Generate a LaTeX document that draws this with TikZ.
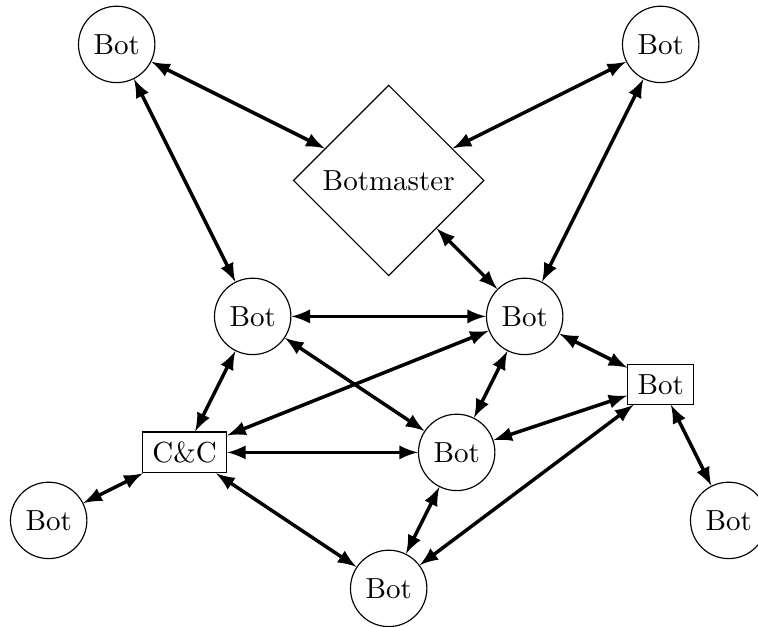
\documentclass[tikz,border=0pt]{standalone}
\usetikzlibrary{shapes.geometric}
\begin{document}
\begin{tikzpicture}[x=0.824cm, y=0.824cm,
  bot/.style = {circle, draw},
  boxbot/.style = {rectangle, draw},
  master/.style = {diamond, draw},
  link/.style = {<->, >=latex, very thick}]
  \useasboundingbox (-5.716,0.653) rectangle (5.431,-8.553);
  \node[master] (master) at (0,-2) {Botmaster};
  \node[bot] (topleft) at (-4,0) {Bot};
  \node[bot] (topright) at (4,0) {Bot};
  \node[bot] (midleft) at (-2,-4) {Bot};
  \node[bot] (midright) at (2,-4) {Bot};
  \node[boxbot] (sidebot) at (4,-5) {Bot};
  \node[boxbot] (cnc) at (-3,-6) {C\&C};
  \node[bot] (centre) at (1,-6) {Bot};
  \node[bot] (farleft) at (-5,-7) {Bot};
  \node[bot] (farright) at (5,-7) {Bot};
  \node[bot] (bottom) at (0,-8) {Bot};

  \draw[link] (topleft) -- (master);
  \draw[link] (topright) -- (master);
  \draw[link] (topleft) -- (midleft);
  \draw[link] (topright) -- (midright);
  \draw[link] (master) -- (midright);
  \draw[link] (midleft) -- (midright);
  \draw[link] (midleft) -- (cnc);
  \draw[link] (midleft) -- (centre);
  \draw[link] (midright) -- (cnc);
  \draw[link] (midright) -- (centre);
  \draw[link] (midright) -- (sidebot);
  \draw[link] (sidebot) -- (centre);
  \draw[link] (sidebot) -- (bottom);
  \draw[link] (sidebot) -- (farright);
  \draw[link] (cnc) -- (centre);
  \draw[link] (cnc) -- (farleft);
  \draw[link] (cnc) -- (bottom);
  \draw[link] (centre) -- (bottom);
\end{tikzpicture}
\end{document}
